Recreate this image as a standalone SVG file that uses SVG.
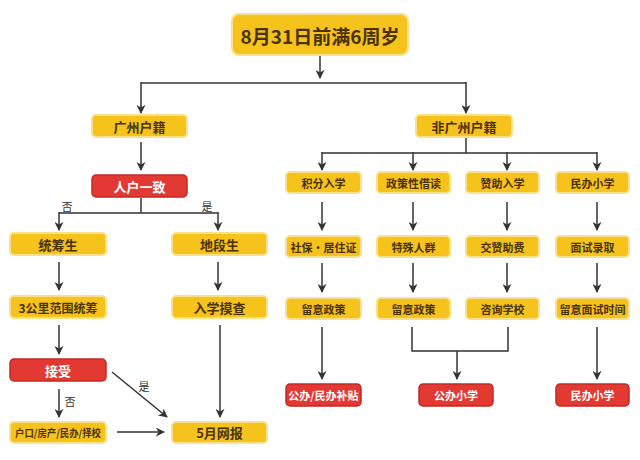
<svg xmlns="http://www.w3.org/2000/svg" width="640" height="460" viewBox="0 0 640 460">
<defs>
<marker id="ah" viewBox="0 0 10 10" refX="9" refY="5" markerWidth="9" markerHeight="9" markerUnits="userSpaceOnUse" orient="auto">
<path d="M0,0 L10,5 L0,10 L3,5 Z" fill="#333"/>
</marker>
<style>
.y{fill:#f6c21c;stroke:#fbe08a;stroke-width:2}
.r{fill:#e23a32;stroke:#c22a25;stroke-width:1.5}
.ty{font-family:"Noto Sans CJK SC","Noto Sans",sans-serif;font-weight:bold;fill:#4a3206;text-anchor:middle;dominant-baseline:central}
.tr{font-family:"Noto Sans CJK SC","Noto Sans",sans-serif;font-weight:bold;fill:#fff;text-anchor:middle;dominant-baseline:central}
.lb{font-family:"Noto Sans CJK SC","Noto Sans",sans-serif;fill:#333;font-size:11px;text-anchor:middle;dominant-baseline:central}
.c{fill:none;stroke:#333;stroke-width:1.5}
.a{marker-end:url(#ah)}
</style>
</defs>
<rect width="640" height="460" fill="#fff"/>
<g id="connectors">
<line class="c a" x1="320" y1="56" x2="320" y2="78"/>
<path class="c" d="M141,83 H466"/>
<line class="c a" x1="141" y1="82" x2="141" y2="113"/>
<line class="c a" x1="466" y1="82" x2="466" y2="113"/>
<line class="c a" x1="141" y1="142" x2="141" y2="170"/>
<path class="c" d="M141,198 V213 M59,213 H218"/>
<line class="c a" x1="59" y1="212" x2="59" y2="230"/>
<line class="c a" x1="218" y1="212" x2="218" y2="230"/>
<line class="c a" x1="59" y1="262" x2="59" y2="290"/>
<line class="c a" x1="218" y1="262" x2="218" y2="290"/>
<line class="c a" x1="59" y1="325" x2="59" y2="354"/>
<line class="c a" x1="59" y1="389" x2="59" y2="417"/>
<line class="c a" x1="220" y1="325" x2="220" y2="417"/>
<line class="c a" x1="117" y1="432" x2="164" y2="432"/>
<line class="c a" x1="112" y1="372" x2="167" y2="417"/>
<path class="c" d="M466,137 V153 M322,153 H597"/>
<line class="c a" x1="322" y1="152" x2="322" y2="170"/>
<line class="c a" x1="413" y1="152" x2="413" y2="170"/>
<line class="c a" x1="507" y1="152" x2="507" y2="170"/>
<line class="c a" x1="597" y1="152" x2="597" y2="170"/>
<line class="c a" x1="322" y1="202" x2="322" y2="230"/>
<line class="c a" x1="413" y1="202" x2="413" y2="230"/>
<line class="c a" x1="507" y1="202" x2="507" y2="230"/>
<line class="c a" x1="597" y1="202" x2="597" y2="230"/>
<line class="c a" x1="322" y1="263" x2="322" y2="292"/>
<line class="c a" x1="413" y1="263" x2="413" y2="292"/>
<line class="c a" x1="507" y1="263" x2="507" y2="292"/>
<line class="c a" x1="597" y1="263" x2="597" y2="292"/>
<line class="c a" x1="322" y1="327" x2="322" y2="379"/>
<path class="c" d="M412,327 V351 H508 V327"/>
<line class="c a" x1="457" y1="351" x2="457" y2="379"/>
<line class="c a" x1="597" y1="327" x2="597" y2="379"/>
<text class="lb" x="67" y="206">否</text>
<text class="lb" x="207" y="206">是</text>
<text class="lb" x="70" y="401">否</text>
<text class="lb" x="144" y="386">是</text>
</g>
<g id="n-top"><rect class="y" x="232" y="14" width="176" height="41" rx="7"/><text class="ty" x="320" y="35" font-size="19">8月31日前满6周岁</text></g>
<g id="n-gz"><rect class="y" x="92" y="115" width="95" height="22" rx="4"/><text class="ty" x="139.5" y="126" font-size="13">广州户籍</text></g>
<g id="n-fgz"><rect class="y" x="416" y="115" width="96" height="22" rx="4"/><text class="ty" x="464" y="126" font-size="13">非广州户籍</text></g>
<g id="n-rhyz"><rect class="r" x="92" y="175" width="95" height="22" rx="4"/><text class="tr" x="139.5" y="186" font-size="13">人户一致</text></g>
<g id="n-tcs"><rect class="y" x="10" y="233" width="96" height="22" rx="4"/><text class="ty" x="58" y="244" font-size="13">统筹生</text></g>
<g id="n-dds"><rect class="y" x="172" y="233" width="95" height="22" rx="4"/><text class="ty" x="219.5" y="244" font-size="13">地段生</text></g>
<g id="n-3gl"><rect class="y" x="10" y="296" width="96" height="22" rx="4"/><text class="ty" x="58" y="307" font-size="12">3公里范围统筹</text></g>
<g id="n-rxmc"><rect class="y" x="172" y="296" width="95" height="22" rx="4"/><text class="ty" x="219.5" y="307" font-size="13">入学摸查</text></g>
<g id="n-js"><rect class="r" x="10" y="359" width="96" height="22" rx="4"/><text class="tr" x="58" y="370" font-size="13">接受</text></g>
<g id="n-hk"><rect class="y" x="10" y="422" width="96" height="21" rx="4"/><text class="ty" x="58" y="432.5" font-size="10" textLength="86" lengthAdjust="spacingAndGlyphs">户口/房产/民办/择校</text></g>
<g id="n-5y"><rect class="y" x="172" y="422" width="95" height="21" rx="4"/><text class="ty" x="219.5" y="432.5" font-size="13">5月网报</text></g>
<g id="n-jf"><rect class="y" x="286" y="172" width="75" height="21" rx="4"/><text class="ty" x="323.5" y="182.5" font-size="11">积分入学</text></g>
<g id="n-zc"><rect class="y" x="377" y="172" width="73" height="21" rx="4"/><text class="ty" x="413.5" y="182.5" font-size="11">政策性借读</text></g>
<g id="n-zz"><rect class="y" x="466" y="172" width="73" height="21" rx="4"/><text class="ty" x="502.5" y="182.5" font-size="11">赞助入学</text></g>
<g id="n-mb"><rect class="y" x="556" y="172" width="73" height="21" rx="4"/><text class="ty" x="592.5" y="182.5" font-size="11">民办小学</text></g>
<g id="n-sb"><rect class="y" x="286" y="236" width="75" height="21" rx="4"/><text class="ty" x="323.5" y="246.5" font-size="11">社保・居住证</text></g>
<g id="n-ts"><rect class="y" x="377" y="236" width="73" height="21" rx="4"/><text class="ty" x="413.5" y="246.5" font-size="11">特殊人群</text></g>
<g id="n-jz"><rect class="y" x="466" y="236" width="73" height="21" rx="4"/><text class="ty" x="502.5" y="246.5" font-size="11">交赞助费</text></g>
<g id="n-ms"><rect class="y" x="556" y="236" width="73" height="21" rx="4"/><text class="ty" x="592.5" y="246.5" font-size="11">面试录取</text></g>
<g id="n-ly1"><rect class="y" x="286" y="298" width="75" height="21" rx="4"/><text class="ty" x="323.5" y="308.5" font-size="11">留意政策</text></g>
<g id="n-ly2"><rect class="y" x="377" y="298" width="73" height="21" rx="4"/><text class="ty" x="413.5" y="308.5" font-size="11">留意政策</text></g>
<g id="n-zx"><rect class="y" x="466" y="298" width="73" height="21" rx="4"/><text class="ty" x="502.5" y="308.5" font-size="11">咨询学校</text></g>
<g id="n-lyms"><rect class="y" x="556" y="298" width="73" height="21" rx="4"/><text class="ty" x="592.5" y="308.5" font-size="11">留意面试时间</text></g>
<g id="n-gbbt"><rect class="r" x="286" y="384" width="75" height="22" rx="4"/><text class="tr" x="323.5" y="395" font-size="11">公办/民办补贴</text></g>
<g id="n-gbxx"><rect class="r" x="419" y="384" width="74" height="22" rx="4"/><text class="tr" x="456" y="395" font-size="11">公办小学</text></g>
<g id="n-mbxx"><rect class="r" x="556" y="384" width="73" height="22" rx="4"/><text class="tr" x="592.5" y="395" font-size="11">民办小学</text></g>
</svg>
